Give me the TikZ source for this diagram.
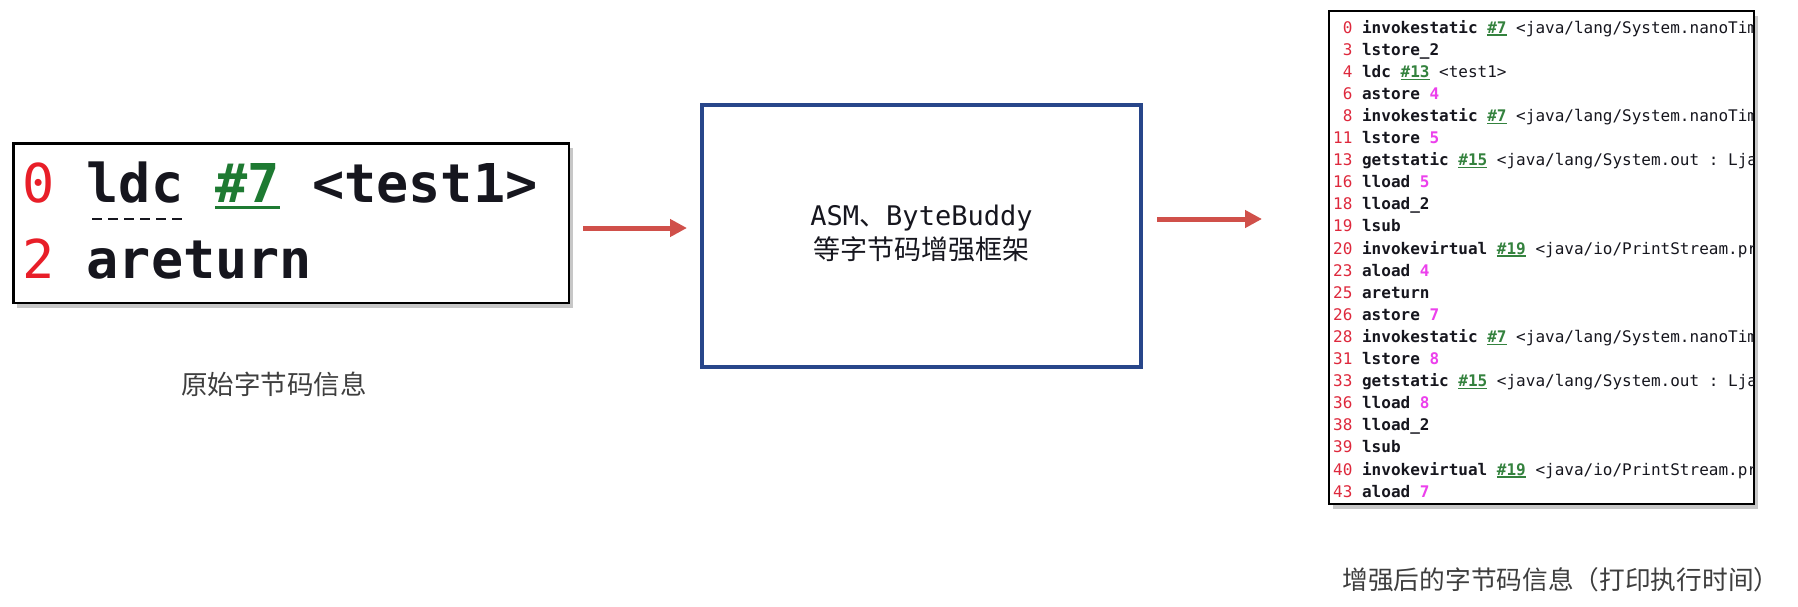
\documentclass[tikz,border=0pt]{standalone}
\usepackage{fontspec}
\setmainfont{DejaVu Sans}
\setmonofont{DejaVu Sans Mono}
\newfontfamily\cjk{Noto Sans CJK SC}
\usetikzlibrary{arrows.meta,shadows}
\definecolor{numred}{RGB}{232,30,40}
\definecolor{lnred}{RGB}{222,40,60}
\definecolor{opmag}{RGB}{236,64,236}
\definecolor{refgreen}{RGB}{30,122,50}
\definecolor{refgreen2}{RGB}{52,130,62}
\definecolor{codeblack}{RGB}{22,22,30}
\definecolor{arrred}{RGB}{208,80,74}
\definecolor{boxblue}{RGB}{40,70,138}
\definecolor{capgray}{RGB}{62,62,62}
\newcommand\grefA[1]{\textcolor{refgreen}{\setbox0\hbox{#1}\rlap{\rule[-7pt]{\wd0}{3pt}}\box0}}
\newcommand\grefB[1]{\textcolor{refgreen2}{\setbox0\hbox{#1}\rlap{\rule[-2.6pt]{\wd0}{1.2pt}}\box0}}
\newcommand\mgop[1]{\textcolor{opmag}{#1}}
\newcommand\lnum[1]{\textcolor{lnred}{\mdseries #1}}
\newcommand\rest[1]{{\mdseries #1}}
\begin{document}
\begin{tikzpicture}[x=1pt,y=-1pt,
  shadowbox/.style={draw=black,line width=2.5pt,fill=white,inner sep=0pt,
    drop shadow={shadow xshift=4pt,shadow yshift=-5pt,opacity=0.22,fill=black}},
  bigcode/.style={anchor=base west,inner sep=0pt,text=codeblack,
    font=\ttfamily\bfseries\fontsize{53.5}{60}\selectfont},
  code/.style={anchor=base west,inner sep=0pt,text=codeblack,
    font=\ttfamily\bfseries\fontsize{16}{18}\selectfont},
  conn/.style={draw=arrred,line width=5pt,-{Triangle[length=17pt,width=17pt]}},
  caption/.style={inner sep=0pt,text=capgray}]
\useasboundingbox[fill=white] (0,0) rectangle (1798,606);

% left box: original bytecode
\node[shadowbox,minimum width=555.5pt,minimum height=159.5pt] (lbox) at (291,223) {};
\node[bigcode] (l1) at (22,202) {\textcolor{numred}{\mdseries 0} ldc \grefA{\#7} <test1>};
\node[bigcode] (l2) at (22,278) {\textcolor{numred}{\mdseries 2} areturn};
\draw[codeblack,line width=2pt,dash pattern=on 10pt off 6pt] (92,219) -- (186,219);
\node[caption,font=\cjk\fontsize{26.5}{30}\selectfont] (cap1) at (274,384) {原始字节码信息};

% middle box
\node[draw=boxblue,line width=4pt,fill=white,minimum width=439pt,minimum height=262pt,inner sep=0pt] (mbox) at (921.5,236) {};
\node[inner sep=0pt,align=center,text=codeblack,font=\fontsize{27}{34}\selectfont] (mtext) at (921.5,233)
  {\ttfamily ASM{\cjk 、}ByteBuddy\\{\cjk 等字节码增强框架}};

% arrows
\coordinate (a1s) at (583,228);
\coordinate (a1e) at (687,228);
\coordinate (a2s) at (1157,219);
\coordinate (a2e) at (1262,219);
\draw[conn] (a1s) -- (a1e);
\draw[conn] (a2s) -- (a2e);

% right panel: enhanced bytecode
\node[shadowbox,line width=2pt,minimum width=425pt,minimum height=493pt] (rbox) at (1541.5,257.5) {};
\begin{scope}
\clip (1329.5,11.5) rectangle (1753.5,503.5);
\node[code] (r0)  at (1333,33.0)  {\phantom{0}\lnum{0} invokestatic \grefB{\#7} \rest{<java/lang/System.nanoTim}};
\node[code] (r1)  at (1333,55.1)  {\phantom{0}\lnum{3} lstore\_2};
\node[code] (r2)  at (1333,77.2)  {\phantom{0}\lnum{4} ldc \grefB{\#13} \rest{<test1>}};
\node[code] (r3)  at (1333,99.3)  {\phantom{0}\lnum{6} astore \mgop{4}};
\node[code] (r4)  at (1333,121.4) {\phantom{0}\lnum{8} invokestatic \grefB{\#7} \rest{<java/lang/System.nanoTim}};
\node[code] (r5)  at (1333,143.5) {\lnum{11} lstore \mgop{5}};
\node[code] (r6)  at (1333,165.6) {\lnum{13} getstatic \grefB{\#15} \rest{<java/lang/System.out : Lja}};
\node[code] (r7)  at (1333,187.7) {\lnum{16} lload \mgop{5}};
\node[code] (r8)  at (1333,209.8) {\lnum{18} lload\_2};
\node[code] (r9)  at (1333,231.9) {\lnum{19} lsub};
\node[code] (r10) at (1333,254.0) {\lnum{20} invokevirtual \grefB{\#19} \rest{<java/io/PrintStream.pr}};
\node[code] (r11) at (1333,276.1) {\lnum{23} aload \mgop{4}};
\node[code] (r12) at (1333,298.2) {\lnum{25} areturn};
\node[code] (r13) at (1333,320.3) {\lnum{26} astore \mgop{7}};
\node[code] (r14) at (1333,342.4) {\lnum{28} invokestatic \grefB{\#7} \rest{<java/lang/System.nanoTim}};
\node[code] (r15) at (1333,364.5) {\lnum{31} lstore \mgop{8}};
\node[code] (r16) at (1333,386.6) {\lnum{33} getstatic \grefB{\#15} \rest{<java/lang/System.out : Lja}};
\node[code] (r17) at (1333,408.7) {\lnum{36} lload \mgop{8}};
\node[code] (r18) at (1333,430.8) {\lnum{38} lload\_2};
\node[code] (r19) at (1333,452.9) {\lnum{39} lsub};
\node[code] (r20) at (1333,475.0) {\lnum{40} invokevirtual \grefB{\#19} \rest{<java/io/PrintStream.pr}};
\node[code] (r21) at (1333,497.1) {\lnum{43} aload \mgop{7}};
\end{scope}
\node[caption,font=\cjk\fontsize{25.7}{30}\selectfont] (cap2) at (1561,580) {增强后的字节码信息（打印执行时间）};
\end{tikzpicture}
\end{document}
